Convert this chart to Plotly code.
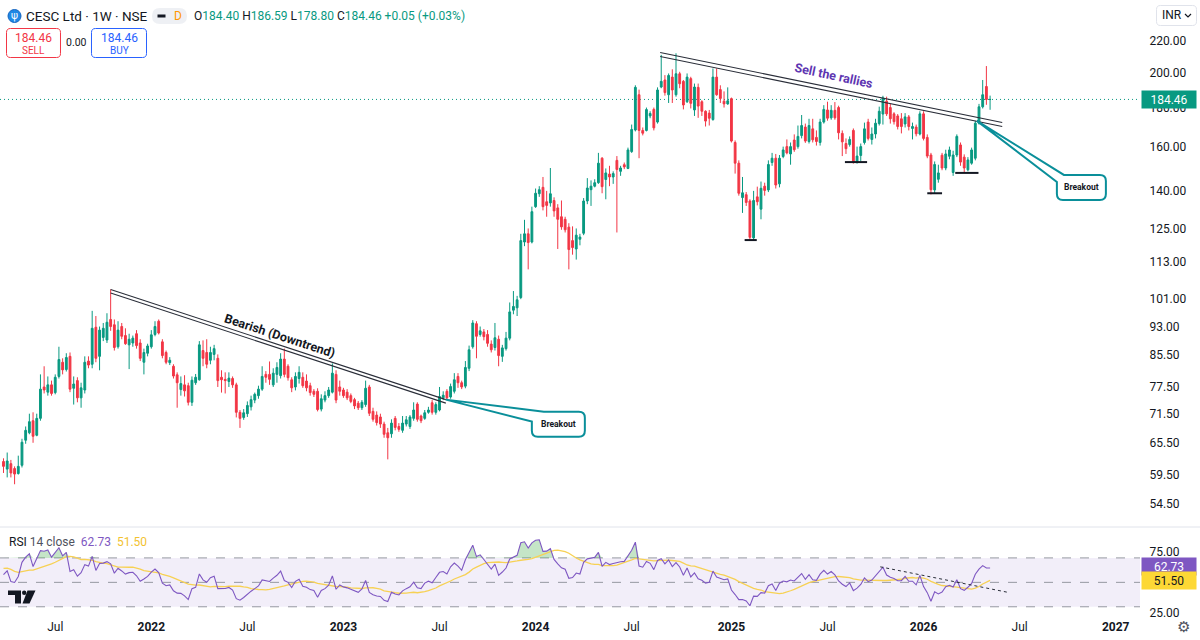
import numpy as np
import pandas as pd
import plotly.graph_objects as go

# ------------------------------------------------------------------
# Data (CESC Ltd, weekly, NSE)
# ------------------------------------------------------------------
first_week = "2021-03-29"

opens = [
    61.9, 60.5, 61.5, 60.6, 59.7, 61.2, 66.0, 67.5, 70.0, 67.0,
    70.5, 77.5, 76.3, 78.0, 76.2, 80.0, 83.5, 81.7, 85.0, 77.2,
    79.0, 75.0, 76.8, 83.8, 83.0, 92.8, 85.0, 90.0, 89.3, 95.0,
    93.5, 87.5, 93.0, 90.5, 88.0, 88.5, 91.0, 88.5, 83.5, 85.8,
    87.5, 90.8, 94.5, 88.8, 86.0, 83.4, 82.5, 80.4, 76.9, 78.0,
    77.8, 74.0, 78.5, 79.2, 86.5, 86.0, 84.0, 85.5, 84.5, 79.8,
    79.3, 78.8, 79.5, 78.0, 71.8, 70.7, 71.5, 73.0, 74.5, 75.5,
    77.0, 80.5, 80.5, 78.0, 80.5, 80.2, 84.3, 82.5, 79.2, 77.5,
    79.5, 79.8, 78.9, 77.8, 76.5, 76.5, 72.5, 74.5, 75.5, 76.3,
    80.5, 77.5, 76.8, 76.3, 75.5, 74.6, 73.8, 72.8, 73.5, 77.5,
    72.0, 71.2, 70.8, 69.3, 67.5, 67.3, 70.5, 68.8, 68.0, 69.3,
    68.8, 70.5, 73.6, 71.0, 70.5, 71.8, 73.9, 71.8, 72.3, 75.0,
    76.5, 75.2, 76.5, 80.0, 78.5, 77.7, 82.0, 87.5, 93.8, 90.8,
    91.5, 90.8, 88.2, 87.3, 89.5, 85.0, 87.0, 89.8, 97.7, 98.4,
    101.5, 120.0, 123.0, 120.0, 133.5, 138.8, 141.5, 135.5, 135.0, 136.0,
    133.0, 129.5, 128.5, 125.5, 120.5, 117.5, 121.0, 123.2, 135.8, 140.5,
    142.0, 143.5, 154.5, 144.9, 147.3, 146.0, 153.5, 148.5, 151.5, 149.8,
    157.6, 168.2, 187.1, 168.0, 168.0, 175.5, 179.0, 172.3, 191.5, 195.6,
    187.1, 197.3, 187.1, 199.3, 194.8, 183.2, 196.4, 178.7, 191.3, 183.2,
    178.0, 177.0, 173.6, 197.3, 190.0, 183.5, 182.0, 184.9, 162.0, 152.2,
    137.2, 138.4, 135.8, 121.5, 137.5, 132.5, 142.0, 140.4, 152.5, 154.5,
    143.0, 155.3, 160.0, 156.5, 163.2, 160.0, 165.4, 169.7, 162.5, 168.8,
    164.5, 162.0, 172.3, 178.7, 174.5, 178.5, 180.0, 166.5, 161.5, 161.0,
    168.0, 152.5, 155.8, 162.0, 172.3, 163.5, 166.2, 171.5, 176.5, 183.5,
    180.0, 176.6, 175.5, 174.0, 171.3, 175.0, 169.0, 169.7, 166.2, 176.6,
    164.5, 156.0, 140.4, 145.0, 155.9, 150.0, 155.4, 148.0, 156.0, 160.8,
    155.0, 149.2, 152.2, 154.5, 171.7, 180.4, 191.8, 184.40,
]

highs = [
    62.5, 63.6, 62.2, 61.0, 63.0, 66.3, 68.8, 71.5, 71.8, 71.5,
    80.5, 82.5, 80.0, 79.0, 80.5, 87.5, 84.5, 85.8, 86.0, 80.0,
    79.8, 78.5, 85.0, 85.0, 97.5, 96.0, 93.0, 94.0, 96.8, 104.0,
    95.0, 94.5, 94.0, 92.5, 91.0, 90.5, 92.0, 89.5, 87.0, 88.3,
    92.0, 94.5, 95.0, 89.5, 86.5, 84.8, 83.0, 81.0, 80.0, 80.3,
    78.5, 80.0, 80.6, 89.0, 89.2, 89.5, 87.5, 88.0, 85.5, 81.5,
    81.0, 81.0, 80.0, 78.5, 72.3, 72.5, 74.2, 75.5, 76.2, 77.8,
    82.5, 81.3, 83.7, 82.0, 83.5, 85.8, 87.0, 83.0, 79.8, 81.0,
    82.5, 81.0, 80.5, 78.5, 77.0, 77.2, 75.8, 76.5, 77.5, 83.2,
    81.5, 79.0, 77.3, 77.0, 76.0, 75.0, 74.3, 74.5, 79.0, 78.0,
    72.8, 72.0, 71.5, 69.8, 68.5, 70.3, 71.0, 69.5, 71.0, 71.0,
    71.2, 74.0, 74.0, 71.3, 72.3, 73.0, 74.5, 74.0, 77.5, 76.5,
    77.0, 78.3, 80.8, 80.8, 79.0, 83.8, 87.8, 94.8, 94.5, 93.0,
    92.3, 92.0, 89.2, 94.0, 90.5, 88.0, 91.5, 100.0, 103.5, 102.0,
    123.0, 128.3, 125.0, 133.5, 141.0, 142.0, 146.0, 140.0, 150.0, 137.3,
    134.5, 136.0, 129.5, 127.0, 125.8, 125.0, 123.0, 137.0, 145.5, 144.5,
    145.0, 157.0, 155.0, 149.8, 151.0, 148.5, 155.5, 151.0, 152.5, 159.5,
    171.0, 192.5, 190.0, 169.5, 180.0, 178.0, 180.0, 191.3, 211.0, 198.5,
    199.5, 202.0, 212.0, 200.5, 195.6, 199.5, 197.5, 193.5, 193.5, 184.0,
    178.5, 178.7, 202.5, 202.5, 192.5, 189.0, 191.3, 185.5, 163.0, 153.5,
    146.0, 139.5, 136.5, 140.0, 141.8, 144.0, 143.5, 153.5, 157.0, 156.5,
    156.0, 160.0, 163.5, 162.0, 166.0, 170.5, 176.0, 171.5, 174.0, 174.0,
    168.0, 174.0, 181.3, 183.2, 181.3, 183.0, 181.0, 168.0, 164.0, 165.0,
    169.0, 160.0, 161.5, 172.0, 174.0, 169.5, 174.0, 180.5, 186.5, 186.0,
    182.0, 177.5, 176.5, 177.0, 177.0, 176.0, 172.0, 171.0, 178.0, 178.0,
    166.0, 157.0, 153.0, 151.5, 157.0, 158.5, 160.0, 158.0, 166.0, 162.0,
    156.3, 155.0, 159.5, 173.0, 182.0, 195.6, 204.0, 186.59,
]

lows = [
    59.8, 59.0, 59.0, 57.8, 59.5, 60.8, 65.3, 67.2, 65.5, 66.8,
    70.0, 76.0, 75.5, 75.5, 75.8, 79.5, 80.5, 81.2, 76.3, 73.5,
    74.0, 72.8, 76.0, 82.0, 82.0, 83.5, 81.5, 89.0, 88.5, 91.8,
    86.5, 87.0, 89.5, 88.0, 81.8, 87.5, 87.0, 83.8, 80.5, 85.0,
    87.0, 90.3, 90.8, 84.5, 83.0, 82.8, 79.5, 72.8, 75.5, 75.3,
    73.3, 73.2, 78.0, 79.0, 82.5, 82.0, 83.0, 84.0, 77.5, 76.2,
    76.0, 77.5, 77.3, 70.7, 68.5, 70.2, 70.8, 72.2, 73.8, 74.8,
    76.6, 78.5, 78.0, 77.5, 78.5, 79.5, 79.8, 79.0, 76.3, 76.7,
    78.3, 77.3, 76.5, 75.5, 75.2, 72.0, 72.0, 74.0, 75.0, 76.0,
    73.8, 75.5, 75.0, 74.5, 73.8, 72.5, 72.3, 72.3, 73.0, 71.0,
    69.8, 69.0, 68.5, 66.5, 62.3, 66.5, 68.0, 67.7, 67.5, 68.8,
    68.3, 70.0, 69.8, 69.5, 70.2, 71.5, 71.3, 71.3, 72.0, 74.5,
    74.5, 74.8, 76.0, 77.3, 77.0, 77.2, 81.3, 87.0, 84.5, 90.2,
    89.2, 87.5, 86.0, 86.5, 82.5, 83.6, 86.5, 89.2, 96.5, 96.0,
    101.0, 118.5, 110.5, 119.5, 133.0, 137.5, 132.0, 129.5, 133.5, 129.5,
    117.5, 124.5, 123.5, 110.5, 115.5, 113.8, 118.8, 122.5, 134.5, 133.8,
    141.5, 143.0, 139.0, 136.5, 142.0, 143.0, 123.5, 146.5, 149.5, 149.5,
    157.0, 167.5, 154.5, 165.5, 167.5, 174.3, 168.0, 171.5, 190.8, 186.6,
    182.5, 182.5, 186.0, 190.8, 179.0, 182.5, 179.5, 175.5, 174.5, 175.5,
    170.0, 170.5, 173.0, 186.5, 182.5, 180.0, 181.5, 162.0, 147.5, 138.0,
    131.0, 133.8, 121.0, 120.5, 134.0, 128.5, 138.0, 139.5, 151.0, 141.0,
    141.5, 154.5, 156.3, 151.5, 157.5, 159.0, 164.0, 161.8, 161.5, 162.0,
    160.5, 160.5, 171.5, 173.0, 173.5, 173.5, 163.5, 155.5, 156.5, 160.0,
    152.0, 152.0, 153.0, 161.0, 163.0, 161.0, 164.0, 170.5, 171.0, 175.5,
    171.5, 171.0, 168.5, 166.5, 169.5, 168.0, 163.5, 165.0, 165.5, 163.0,
    154.5, 138.5, 139.0, 143.5, 149.0, 149.0, 154.0, 146.5, 155.0, 151.0,
    147.8, 148.5, 151.5, 153.5, 171.0, 179.5, 181.5, 178.80,
]

closes = [
    61.0, 62.0, 59.8, 59.6, 61.0, 65.6, 68.0, 69.8, 66.8, 70.5,
    77.0, 76.8, 78.0, 76.0, 79.8, 84.2, 81.6, 84.7, 77.0, 78.2,
    75.0, 77.3, 83.5, 82.8, 92.5, 84.5, 92.0, 92.5, 94.2, 93.0,
    87.3, 92.0, 90.3, 88.3, 89.5, 89.8, 87.8, 84.5, 86.0, 87.7,
    90.7, 93.0, 91.2, 85.2, 83.5, 84.0, 80.1, 78.5, 78.3, 76.6,
    74.0, 79.1, 79.8, 88.0, 84.5, 83.0, 86.0, 87.0, 79.0, 79.2,
    79.0, 79.6, 78.0, 71.8, 70.5, 71.7, 73.3, 74.6, 75.8, 77.0,
    80.0, 79.8, 79.3, 80.8, 82.2, 84.3, 80.5, 79.7, 77.3, 80.0,
    81.0, 77.8, 77.3, 76.2, 75.8, 72.4, 74.8, 75.5, 76.8, 80.8,
    74.5, 76.5, 75.5, 75.0, 74.2, 73.2, 72.8, 74.0, 77.2, 71.6,
    70.3, 69.6, 69.3, 67.2, 66.5, 69.5, 68.6, 68.2, 69.5, 70.2,
    70.8, 72.3, 70.3, 70.0, 71.7, 72.3, 71.8, 73.5, 75.3, 75.6,
    75.0, 77.6, 79.2, 78.5, 77.5, 82.2, 86.7, 94.0, 90.3, 91.8,
    90.2, 88.4, 86.7, 89.9, 85.2, 87.2, 89.8, 97.2, 98.8, 100.8,
    120.5, 123.0, 119.8, 131.5, 139.0, 140.5, 133.5, 134.0, 138.8, 131.8,
    128.5, 125.6, 124.5, 117.3, 118.0, 122.5, 121.8, 135.8, 141.2, 142.0,
    143.5, 152.2, 141.8, 147.8, 146.0, 147.5, 149.3, 150.0, 150.5, 158.4,
    168.5, 191.3, 168.0, 166.6, 178.9, 176.8, 169.3, 189.8, 194.8, 188.3,
    198.3, 189.8, 199.3, 193.4, 181.4, 197.3, 182.3, 191.5, 180.8, 178.0,
    172.8, 174.3, 197.3, 187.1, 185.0, 182.0, 183.7, 162.7, 152.2, 139.0,
    139.2, 135.2, 121.7, 136.0, 135.5, 141.1, 140.2, 151.6, 154.5, 142.5,
    154.5, 158.4, 157.0, 160.0, 158.5, 165.0, 170.5, 162.7, 170.5, 163.3,
    162.5, 172.3, 179.0, 174.3, 178.5, 174.5, 166.8, 162.3, 159.0, 163.5,
    152.5, 155.5, 160.0, 168.8, 164.0, 166.2, 171.7, 178.0, 185.3, 176.6,
    174.0, 172.5, 170.0, 170.0, 175.0, 170.0, 170.0, 166.3, 176.6, 164.0,
    155.5, 140.5, 151.6, 147.8, 150.0, 156.5, 158.4, 156.0, 165.0, 152.7,
    150.0, 153.7, 158.4, 171.7, 180.4, 187.1, 184.41, 184.46,
]

# estimated weekly closes just before the visible window (only used to warm up RSI)
warmup_closes = [55.8, 56.9, 58.2, 57.4, 59.1, 60.3, 58.9, 57.6, 59.4, 61.2,
                 60.5, 58.8, 60.1, 62.3, 61.4, 60.0, 61.8, 62.6, 60.9, 61.5]

price_ticks = [54.5, 59.5, 65.5, 71.5, 77.5, 85.5, 93, 101, 113, 125, 140, 160, 180, 200, 220]
rsi_ticks = [25, 75]
time_tick_dates = ["2021-07-05", "2022-01-03", "2022-07-04", "2023-01-02", "2023-07-03",
                   "2024-01-01", "2024-07-01", "2025-01-06", "2025-07-07", "2026-01-05",
                   "2026-07-06", "2027-01-04"]
time_tick_labels = ["Jul", "2022", "Jul", "2023", "Jul", "2024", "Jul", "2025", "Jul",
                    "2026", "Jul", "2027"]

bear_line_dates = ["2021-10-18", "2023-07-15"]
bear_line_prices = [104.0, 74.6]
sell_line_dates = ["2024-08-24", "2026-06-03"]
sell_line_prices = [212.5, 172.1]
support_starts = ["2025-01-31", "2025-08-09", "2026-01-12", "2026-03-06"]
support_ends = ["2025-02-23", "2025-09-20", "2026-02-09", "2026-04-19"]
support_prices = [120.7, 152.7, 139.0, 147.8]
breakout_dates = ["2023-07-15", "2026-04-16"]
breakout_prices = [74.6, 172.9]
rsi_trend_dates = ["2025-10-15", "2026-06-14"]
rsi_trend_values = [62.7, 41.8]
rsi_shown_values = [62.73, 51.50]
header_ohlc = [184.40, 186.59, 178.80, 184.46]
header_change = [0.05, 0.03]

# ------------------------------------------------------------------
UP, DOWN = "#089981", "#f23645"
TXT = "#131722"
FONT = "Roboto, 'Liberation Sans', sans-serif"

W, H = 1200, 640
MR, MB = 60, 27
PW, PH = W - MR, H - MB


def fx(px):
    return px / PW


def fy(py):
    return (PH - py) / PH


dates = pd.date_range(first_week, periods=len(closes), freq="7D")

# RSI(14) with Wilder smoothing + its 14-period SMA
c_all = pd.Series(warmup_closes + closes, dtype=float)
delta = c_all.diff().fillna(0.0)
avg_up = delta.clip(lower=0).ewm(alpha=1 / 14, adjust=False).mean()
avg_dn = (-delta).clip(lower=0).ewm(alpha=1 / 14, adjust=False).mean()
rsi_all = 100 - 100 / (1 + avg_up / avg_dn)
ma_all = rsi_all.rolling(14, min_periods=1).mean()
n0 = len(warmup_closes)
rsi = rsi_all.iloc[n0:].to_numpy()
rsi_ma = ma_all.iloc[n0:].to_numpy()

main_top_px, main_bot_px = 0, 526
y_lo, y_hi = np.log10(50.96), np.log10(248.96)
log_per_px = (y_hi - y_lo) / (main_bot_px - main_top_px)

fig = go.Figure()

fig.add_trace(go.Candlestick(
    x=dates, open=opens, high=highs, low=lows, close=closes,
    increasing=dict(line=dict(color=UP, width=1), fillcolor=UP),
    decreasing=dict(line=dict(color=DOWN, width=1), fillcolor=DOWN),
    whiskerwidth=0, showlegend=False, hoverinfo="skip", xaxis="x", yaxis="y"))


def add_double_line(dts, prices, gap_px):
    k = 10 ** (-gap_px * log_per_px)
    for f in (1.0, k):
        fig.add_trace(go.Scatter(x=dts, y=[p * f for p in prices], mode="lines",
                                 line=dict(color="#2a2e39", width=1.1),
                                 showlegend=False, hoverinfo="skip", xaxis="x", yaxis="y"))


add_double_line(bear_line_dates, bear_line_prices, 3.5)
add_double_line(sell_line_dates, sell_line_prices, 4.0)

for s, e, p in zip(support_starts, support_ends, support_prices):
    fig.add_trace(go.Scatter(x=[s, e], y=[p, p], mode="lines",
                             line=dict(color="#131722", width=2),
                             showlegend=False, hoverinfo="skip", xaxis="x", yaxis="y"))

# ---- RSI pane ----
n = len(dates)
ob = np.where(rsi > 70, rsi, 70)
os_ = np.where(rsi < 30, rsi, 30)
fig.add_trace(go.Scatter(x=dates, y=[70] * n, mode="lines", line=dict(width=0),
                         showlegend=False, hoverinfo="skip", xaxis="x2", yaxis="y2"))
fig.add_trace(go.Scatter(x=dates, y=ob, mode="lines", line=dict(width=0), fill="tonexty",
                         fillcolor="rgba(76,175,80,0.32)",
                         showlegend=False, hoverinfo="skip", xaxis="x2", yaxis="y2"))
fig.add_trace(go.Scatter(x=dates, y=[30] * n, mode="lines", line=dict(width=0),
                         showlegend=False, hoverinfo="skip", xaxis="x2", yaxis="y2"))
fig.add_trace(go.Scatter(x=dates, y=os_, mode="lines", line=dict(width=0), fill="tonexty",
                         fillcolor="rgba(242,54,69,0.22)",
                         showlegend=False, hoverinfo="skip", xaxis="x2", yaxis="y2"))
fig.add_trace(go.Scatter(x=dates, y=rsi_ma, mode="lines", line=dict(color="#f7d154", width=1.3),
                         showlegend=False, hoverinfo="skip", xaxis="x2", yaxis="y2"))
fig.add_trace(go.Scatter(x=dates, y=rsi, mode="lines", line=dict(color="#7e57c2", width=1.1),
                         showlegend=False, hoverinfo="skip", xaxis="x2", yaxis="y2"))
fig.add_trace(go.Scatter(x=rsi_trend_dates, y=rsi_trend_values, mode="lines",
                         line=dict(color="#2a2e39", width=1, dash="dot"),
                         showlegend=False, hoverinfo="skip", xaxis="x2", yaxis="y2"))

shapes = []
annotations = []

# RSI band and levels
shapes.append(dict(type="rect", xref="paper", yref="y2", x0=0, x1=1, y0=30, y1=70,
                   fillcolor="rgba(126,87,194,0.10)", line=dict(width=0), layer="below"))
for lv in (70, 50, 30):
    shapes.append(dict(type="line", xref="paper", yref="y2", x0=0, x1=1, y0=lv, y1=lv,
                       line=dict(color="#9598a1", width=1, dash="dash"), layer="below"))

# pane separator
shapes.append(dict(type="line", xref="paper", yref="paper", x0=0, x1=W / PW,
                   y0=fy(527), y1=fy(527), line=dict(color="#e0e3eb", width=1)))

# last price line
shapes.append(dict(type="line", xref="paper", yref="y", x0=0, x1=1,
                   y0=closes[-1], y1=closes[-1],
                   line=dict(color=UP, width=1, dash="1px,3px"), layer="below"))

# Breakout callouts (tail + rounded box), drawn in pixel offsets from the breakout point
callout_geo = [
    dict(tx=98, ty=-12, bx0=86, bx1=139, by0=-12, by1=-37, lx=86, ly=-22),
    dict(tx=87, ty=-54, bx0=80, bx1=129, by0=-54, by1=-79, lx=80, ly=-61),
]
r = 6
for d, p, g in zip(breakout_dates, breakout_prices, callout_geo):
    x0, x1, y0, y1 = g["bx0"], g["bx1"], g["by0"], g["by1"]
    path = (f"M 0,0 L {g['tx']},{g['ty']} L {x1 - r},{y0} Q {x1},{y0} {x1},{y0 - r} "
            f"L {x1},{y1 + r} Q {x1},{y1} {x1 - r},{y1} L {x0 + r},{y1} "
            f"Q {x0},{y1} {x0},{y1 + r} L {g['lx']},{g['ly']} Z")
    shapes.append(dict(type="path", xref="x", yref="y", xsizemode="pixel", ysizemode="pixel",
                       xanchor=d, yanchor=p, path=path, fillcolor="white",
                       line=dict(color="#0a8f9a", width=2), layer="above"))
    annotations.append(dict(xref="x", yref="y", x=d, y=np.log10(p),
                            xshift=(x0 + x1) / 2, yshift=(y0 + y1) / 2,
                            text="<b>Breakout</b>", showarrow=False,
                            font=dict(size=8.5, color=TXT)))

annotations.append(dict(xref="x", yref="y", x="2022-09-03", y=np.log10(90.4),
                        text="<b>Bearish (Downtrend)</b>", textangle=18, showarrow=False,
                        font=dict(size=12.5, color=TXT)))
annotations.append(dict(xref="x", yref="y", x="2025-07-19", y=np.log10(198.4),
                        text="<b>Sell the rallies</b>", textangle=12, showarrow=False,
                        font=dict(size=12.5, color="#5e35b1")))


def ann(px, py, text, size=12, color=TXT, xanchor="left", **kw):
    d = dict(xref="paper", yref="paper", x=fx(px), y=fy(py), text=text, showarrow=False,
             xanchor=xanchor, yanchor="middle", font=dict(size=size, color=color), **kw)
    annotations.append(d)


def rrect_path(x0, y0, x1, y1, rr):
    def P(x, y):
        return f"{fx(x):.6f},{fy(y):.6f}"
    return (f"M {P(x0 + rr, y0)} L {P(x1 - rr, y0)} Q {P(x1, y0)} {P(x1, y0 + rr)} "
            f"L {P(x1, y1 - rr)} Q {P(x1, y1)} {P(x1 - rr, y1)} L {P(x0 + rr, y1)} "
            f"Q {P(x0, y1)} {P(x0, y1 - rr)} L {P(x0, y0 + rr)} Q {P(x0, y0)} {P(x0 + rr, y0)} Z")


def add_rrect(x0, y0, x1, y1, rr, line, fill, width=1):
    shapes.append(dict(type="path", xref="paper", yref="paper", path=rrect_path(x0, y0, x1, y1, rr),
                       line=dict(color=line, width=width), fillcolor=fill, layer="above"))


# ---- header ----
shapes.append(dict(type="circle", xref="paper", yref="paper", x0=fx(8), x1=fx(21),
                   y0=fy(22.5), y1=fy(9.5), fillcolor="#1e88e5", line=dict(color="#1565c0", width=1)))
ann(14.5, 16, "ψ", size=10, color="white", xanchor="center")
ann(24, 16, "CESC Ltd · 1W · NSE", size=13.5)
add_rrect(152, 8, 187, 24, 8, "rgba(0,0,0,0)", "#eef0f4", width=0)
shapes.append(dict(type="rect", xref="paper", yref="paper", x0=fx(157.5), x1=fx(165.5),
                   y0=fy(17.5), y1=fy(14.5), fillcolor="#131722", line=dict(width=0)))
ann(178.5, 16, "D", size=12, color="#ff9800", xanchor="center")
o, h, l, c = header_ohlc
g = f"<span style='color:{UP}'>"
ann(192, 16, f"O{g}{o:.2f}</span> H{g}{h:.2f}</span> L{g}{l:.2f}</span> C{g}{c:.2f}</span> "
             f"{g}+{header_change[0]:.2f} (+{header_change[1]:.2f}%)</span>", size=12)

add_rrect(6.5, 28.5, 60.5, 57.5, 4, DOWN, "white")
ann(33.5, 38, f"{closes[-1]:.2f}", size=12, color=DOWN, xanchor="center")
ann(33.5, 50.5, "SELL", size=10, color=DOWN, xanchor="center")
ann(76.5, 43, "0.00", size=10.5, xanchor="center")
add_rrect(91.5, 28.5, 146.5, 57.5, 4, "#2962ff", "white")
ann(119, 38, f"{closes[-1]:.2f}", size=12, color="#2962ff", xanchor="center")
ann(119, 50.5, "BUY", size=10, color="#2962ff", xanchor="center")

add_rrect(1156.5, 5.5, 1196.5, 25.5, 4, "#e0e3eb", "white")
ann(1160, 15.5, "INR", size=12)
shapes.append(dict(type="path", xref="paper", yref="paper",
                   path=f"M {fx(1185)},{fy(14)} L {fx(1188)},{fy(17)} L {fx(1191)},{fy(14)}",
                   line=dict(color=TXT, width=1.2)))

# last price tag on the axis
annotations.append(dict(xref="paper", yref="y", x=fx(1141), y=np.log10(closes[-1]),
                        xanchor="left", yanchor="middle", text=f"{closes[-1]:.2f}",
                        showarrow=False, bgcolor=UP, font=dict(size=12, color="white"),
                        width=52, height=15, borderpad=1, align="center"))

# RSI legend and value tags
ann(7, 541.5, f"RSI <span style='color:#50535e'>14 close</span>  "
              f"<span style='color:#7e57c2'>{rsi_shown_values[0]:.2f}</span>  "
              f"<span style='color:#f2c230'>{rsi_shown_values[1]:.2f}</span>", size=12)
annotations.append(dict(xref="paper", yref="y2", x=fx(1141), y=rsi_shown_values[0],
                        xanchor="left", yanchor="middle", text=f"{rsi_shown_values[0]:.2f}",
                        showarrow=False, bgcolor="#7e57c2", font=dict(size=12, color="white"),
                        width=52, height=15, borderpad=1, align="center"))
annotations.append(dict(xref="paper", yref="y2", x=fx(1141), y=rsi_shown_values[1],
                        xanchor="left", yanchor="middle", text=f"{rsi_shown_values[1]:.2f}",
                        showarrow=False, bgcolor="#fdd835", font=dict(size=12, color=TXT),
                        width=52, height=15, borderpad=1, align="center"))

# TradingView logo
def poly(pts):
    return "M " + " L ".join(f"{fx(x):.6f},{fy(y):.6f}" for x, y in pts) + " Z"


shapes.append(dict(type="path", xref="paper", yref="paper",
                   path=poly([(8, 590.5), (21, 590.5), (21, 603.5), (15, 603.5), (15, 595), (8, 595)]),
                   fillcolor="#131722", line=dict(width=0)))
shapes.append(dict(type="circle", xref="paper", yref="paper", x0=fx(22), x1=fx(26.4),
                   y0=fy(595), y1=fy(590.6), fillcolor="#131722", line=dict(width=0)))
shapes.append(dict(type="path", xref="paper", yref="paper",
                   path=poly([(27.5, 590.5), (35.5, 590.5), (29.5, 603.5), (22.5, 603.5)]),
                   fillcolor="#131722", line=dict(width=0)))

ann(1183, 627, "⚙", size=15, color="#50535e", xanchor="center")

fig.update_layout(
    width=W, height=H,
    margin=dict(l=0, r=MR, t=0, b=MB),
    paper_bgcolor="white", plot_bgcolor="white",
    font=dict(family=FONT, color=TXT, size=12),
    showlegend=False,
    hovermode=False,
    shapes=shapes,
    annotations=annotations,
    xaxis=dict(domain=[0, 1], anchor="y", type="date",
               range=["2021-03-22 09:00", "2027-02-19"],
               showticklabels=False, showgrid=False, zeroline=False, showline=False,
               rangeslider=dict(visible=False)),
    xaxis2=dict(domain=[0, 1], anchor="y2", type="date", matches="x",
                range=["2021-03-22 09:00", "2027-02-19"],
                tickmode="array", tickvals=time_tick_dates,
                ticktext=[f"<b>{t}</b>" if t.isdigit() else t for t in time_tick_labels],
                tickfont=dict(size=12, color=TXT), ticks="outside", ticklen=3,
                tickcolor="rgba(0,0,0,0)",
                showgrid=False, zeroline=False, showline=False),
    yaxis=dict(domain=[fy(main_bot_px), 1.0], anchor="x", type="log", side="right",
               range=[y_lo, y_hi], tickmode="array", tickvals=price_ticks,
               ticktext=[f"{v:.2f}" for v in price_ticks],
               tickfont=dict(size=12, color=TXT), ticks="outside", ticklen=6,
               tickcolor="rgba(0,0,0,0)",
               showgrid=False, zeroline=False, showline=False),
    yaxis2=dict(domain=[0, fy(528)], anchor="x2", side="right",
                range=[24.9, 94.5], tickmode="array", tickvals=rsi_ticks,
                ticktext=[f"{v:.2f}" for v in rsi_ticks],
                tickfont=dict(size=12, color=TXT), ticks="outside", ticklen=6,
                tickcolor="rgba(0,0,0,0)",
                showgrid=False, zeroline=False, showline=False),
)

fig.write_html("out.html", config={"displayModeBar": False})
